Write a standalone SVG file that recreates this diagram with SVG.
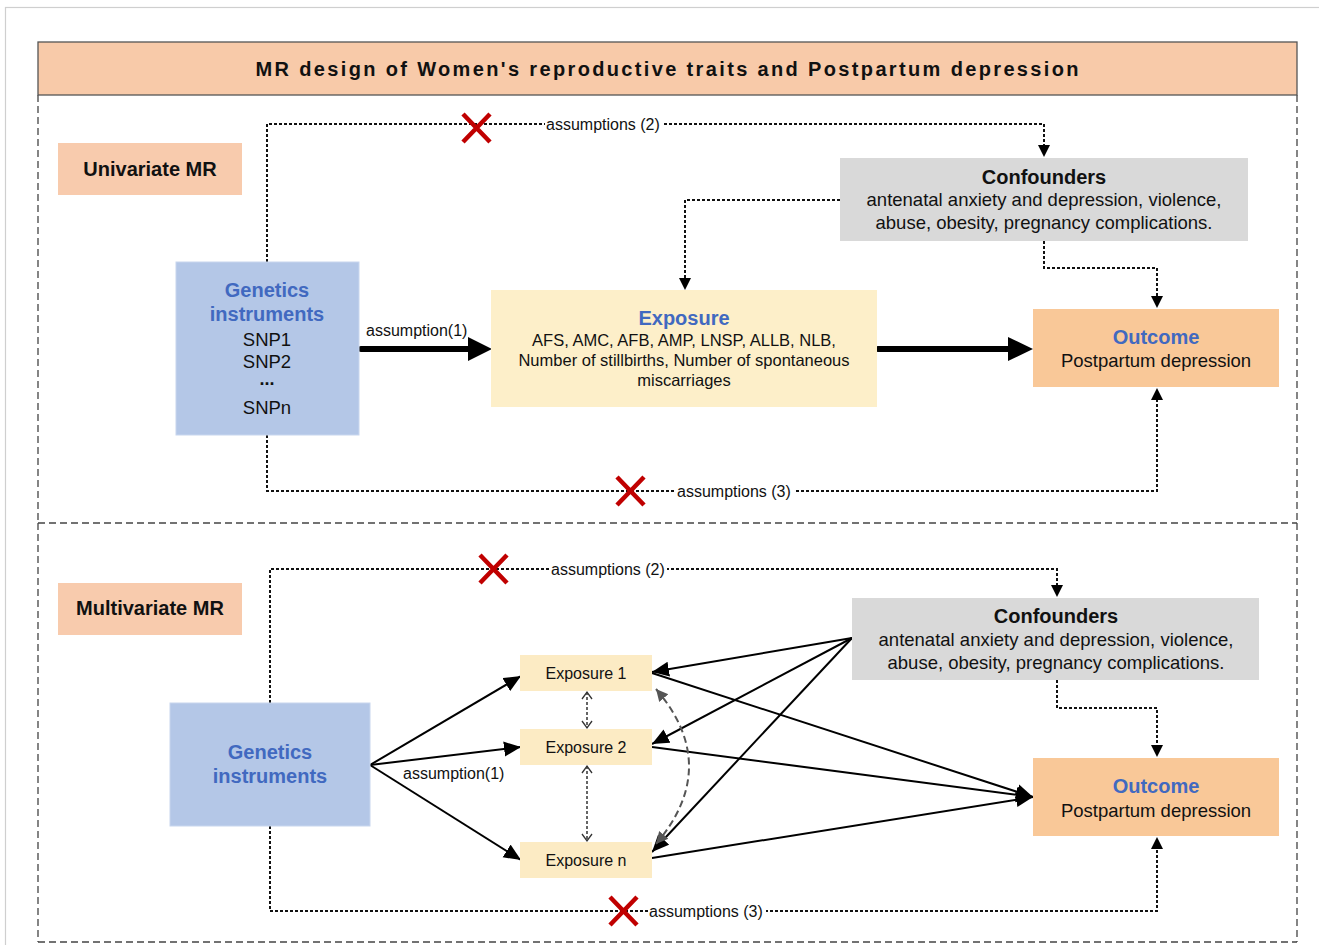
<svg xmlns="http://www.w3.org/2000/svg" width="1319" height="945" viewBox="0 0 1319 945">
<style>
text{font-family:"Liberation Sans",Arial,sans-serif;fill:#111;}
.b{font-weight:bold;}
.blue{fill:#4169C0;font-weight:bold;font-size:20px;}
.body{font-size:18.5px;}
.sm{font-size:16px;}
.dot{fill:none;stroke:#111;stroke-width:2;stroke-dasharray:3 2;}
.sec{fill:none;stroke:#444;stroke-width:1.3;stroke-dasharray:7 4;}
.solid{fill:none;stroke:#000;stroke-width:2;}
.thick{fill:none;stroke:#000;stroke-width:6;stroke-linecap:round;}
.x{stroke:#C00000;stroke-width:4.5;stroke-linecap:butt;}
.lbl{fill:#fff;}
</style>
<defs>
<marker id="md" markerUnits="userSpaceOnUse" markerWidth="18" markerHeight="16" refX="17" refY="8" orient="auto"><path d="M0,0.5 L17,8 L0,15.5 z" fill="#000"/></marker>
<marker id="chev" markerUnits="userSpaceOnUse" markerWidth="12" markerHeight="12" refX="9" refY="6" orient="auto-start-reverse"><path d="M2,1 L9,6 L2,11" fill="none" stroke="#333" stroke-width="1.3"/></marker>
<marker id="gray" markerUnits="userSpaceOnUse" markerWidth="14" markerHeight="14" refX="12" refY="7" orient="auto-start-reverse"><path d="M0,1 L12,7 L0,13 z" fill="#555"/></marker>
</defs>
<rect x="0" y="0" width="1319" height="945" fill="#fff"/>
<rect x="5.5" y="7.5" width="1340" height="1000" fill="none" stroke="#cfcfcf" stroke-width="1.2"/>

<g id="frame">
<path class="sec" d="M38,95 V523 M1297,95 V523 M38,523 H1297 M38,523 V942 M1297,523 V942 M38,942 H1297"/>
</g>

<g id="title">
<rect x="38" y="42" width="1259" height="53" fill="#F8CAA9" stroke="#555" stroke-width="1.3"/>
<text x="667" y="75.5" text-anchor="middle" class="b" font-size="20" textLength="823" lengthAdjust="spacing">MR design of Women's reproductive traits and Postpartum depression</text>
</g>

<g id="connectors">
<!-- univariate -->
<path class="dot" d="M267,262 V124 H1044 V146" />
<path d="M1038,145 L1044,157 L1050,145 z" fill="#000"/>
<path class="dot" d="M840,200 H685 V279"/>
<path d="M679,278 L685,290 L691,278 z" fill="#000"/>
<path class="dot" d="M1044,241 V268 H1157 V297"/>
<path d="M1151,296 L1157,308 L1163,296 z" fill="#000"/>
<path class="dot" d="M267,435 V491 H1157 V399"/>
<path d="M1151,400 L1157,388 L1163,400 z" fill="#000"/>
<line class="thick" x1="361" y1="349" x2="470" y2="349"/>
<path d="M468,337 L492,349 L468,361 z" fill="#000"/>
<line class="thick" x1="878" y1="349" x2="1010" y2="349"/>
<path d="M1008,337 L1033,349 L1008,361 z" fill="#000"/>
<rect class="lbl" x="545" y="114" width="117" height="20"/>
<text x="546" y="129.5" class="sm">assumptions (2)</text>
<rect class="lbl" x="676" y="481" width="118" height="20"/>
<text x="677" y="496.5" class="sm">assumptions (3)</text>
<text x="366" y="335.5" class="sm">assumption(1)</text>
<path class="x" d="M463,114 L490,142 M490,114 L463,142"/>
<path class="x" d="M617,477 L644,505 M644,477 L617,505"/>

<!-- multivariate -->
<path class="dot" d="M270,703 V569 H1057 V586"/>
<path d="M1051,585 L1057,597 L1063,585 z" fill="#000"/>
<path class="dot" d="M1057,680 V708 H1157 V746"/>
<path d="M1151,745 L1157,757 L1163,745 z" fill="#000"/>
<path class="dot" d="M270,826 V911 H1157 V848"/>
<path d="M1151,849 L1157,837 L1163,849 z" fill="#000"/>
<rect class="lbl" x="550" y="559" width="117" height="20"/>
<text x="551" y="574.5" class="sm">assumptions (2)</text>
<rect class="lbl" x="648" y="901" width="118" height="20"/>
<text x="649" y="916.5" class="sm">assumptions (3)</text>
<path class="x" d="M480,555 L507,583 M507,555 L480,583"/>
<path class="x" d="M610,897 L637,925 M637,897 L610,925"/>

<line class="solid" x1="370" y1="765" x2="521" y2="676" marker-end="url(#md)"/>
<line class="solid" x1="370" y1="765" x2="521" y2="747" marker-end="url(#md)"/>
<line class="solid" x1="370" y1="765" x2="521" y2="860" marker-end="url(#md)"/>
<text x="403" y="778.5" class="sm">assumption(1)</text>

<line class="solid" x1="852" y1="638" x2="652" y2="672" marker-end="url(#md)"/>
<line class="solid" x1="852" y1="638" x2="652" y2="744" marker-end="url(#md)"/>
<line class="solid" x1="852" y1="638" x2="652" y2="852" marker-end="url(#md)"/>

<line class="solid" x1="652" y1="673" x2="1033" y2="797" marker-end="url(#md)"/>
<line class="solid" x1="652" y1="747" x2="1033" y2="797" marker-end="url(#md)"/>
<line class="solid" x1="652" y1="858" x2="1033" y2="797" marker-end="url(#md)"/>

<line x1="587" y1="692" x2="587" y2="728" fill="none" stroke="#333" stroke-width="1.5" stroke-dasharray="3 2" marker-start="url(#chev)" marker-end="url(#chev)"/>
<line x1="587" y1="766" x2="587" y2="841" fill="none" stroke="#333" stroke-width="1.5" stroke-dasharray="3 2" marker-start="url(#chev)" marker-end="url(#chev)"/>
<path d="M656,689 Q722,766 656,844" fill="none" stroke="#555" stroke-width="2" stroke-dasharray="7 4" marker-start="url(#gray)" marker-end="url(#gray)"/>
</g>

<g id="univariate-label">
<rect x="58" y="143" width="184" height="52" fill="#F8CBAD"/>
<text x="150" y="176" text-anchor="middle" class="b" font-size="20">Univariate MR</text>
</g>

<g id="confounders-1">
<rect x="840" y="158" width="408" height="83" fill="#D9D9D9"/>
<text x="1044" y="184" text-anchor="middle" class="b" font-size="20">Confounders</text>
<text x="1044" y="206" text-anchor="middle" class="body">antenatal anxiety and depression, violence,</text>
<text x="1044" y="229" text-anchor="middle" class="body">abuse, obesity, pregnancy complications.</text>
</g>

<g id="genetics-1">
<rect x="176" y="262" width="183" height="173" fill="#B4C7E7" stroke="#C8D6EE" stroke-width="1"/>
<text x="267" y="297" text-anchor="middle" class="blue">Genetics</text>
<text x="267" y="321" text-anchor="middle" class="blue">instruments</text>
<text x="267" y="345.5" text-anchor="middle" class="body" font-size="18">SNP1</text>
<text x="267" y="367.5" text-anchor="middle" class="body" font-size="18">SNP2</text>
<text x="267" y="385" text-anchor="middle" class="b" font-size="18">...</text>
<text x="267" y="413.5" text-anchor="middle" class="body" font-size="18">SNPn</text>
</g>

<g id="exposure-1">
<rect x="491" y="290" width="386" height="117" fill="#FDEFC9"/>
<text x="684" y="325" text-anchor="middle" class="blue">Exposure</text>
<text x="684" y="346" text-anchor="middle" font-size="16.5">AFS, AMC, AFB, AMP, LNSP, ALLB, NLB,</text>
<text x="684" y="366" text-anchor="middle" font-size="16.5">Number of stillbirths, Number of spontaneous</text>
<text x="684" y="386" text-anchor="middle" font-size="16.5">miscarriages</text>
</g>

<g id="outcome-1">
<rect x="1033" y="309" width="246" height="78" fill="#F9C898"/>
<text x="1156" y="344" text-anchor="middle" class="blue">Outcome</text>
<text x="1156" y="366.5" text-anchor="middle" class="body">Postpartum depression</text>
</g>

<g id="multivariate-label">
<rect x="58" y="583" width="184" height="52" fill="#F8CBAD"/>
<text x="150" y="615" text-anchor="middle" class="b" font-size="20">Multivariate MR</text>
</g>

<g id="confounders-2">
<rect x="852" y="598" width="407" height="82" fill="#D9D9D9"/>
<text x="1056" y="623" text-anchor="middle" class="b" font-size="20">Confounders</text>
<text x="1056" y="645.5" text-anchor="middle" class="body">antenatal anxiety and depression, violence,</text>
<text x="1056" y="668.5" text-anchor="middle" class="body">abuse, obesity, pregnancy complications.</text>
</g>

<g id="genetics-2">
<rect x="170" y="703" width="200" height="123" fill="#B4C7E7" stroke="#C8D6EE" stroke-width="1"/>
<text x="270" y="759" text-anchor="middle" class="blue">Genetics</text>
<text x="270" y="783" text-anchor="middle" class="blue">instruments</text>
</g>

<g id="exposure-m1">
<rect x="520" y="655" width="132" height="36" fill="#FCEBC4"/>
<text x="586" y="679" text-anchor="middle" class="sm">Exposure 1</text>
</g>
<g id="exposure-m2">
<rect x="520" y="729" width="132" height="36" fill="#FCEBC4"/>
<text x="586" y="753" text-anchor="middle" class="sm">Exposure 2</text>
</g>
<g id="exposure-mn">
<rect x="520" y="842" width="132" height="36" fill="#FCEBC4"/>
<text x="586" y="866" text-anchor="middle" class="sm">Exposure n</text>
</g>

<g id="outcome-2">
<rect x="1033" y="758" width="246" height="78" fill="#F9C898"/>
<text x="1156" y="793" text-anchor="middle" class="blue">Outcome</text>
<text x="1156" y="816.5" text-anchor="middle" class="body">Postpartum depression</text>
</g>
</svg>
